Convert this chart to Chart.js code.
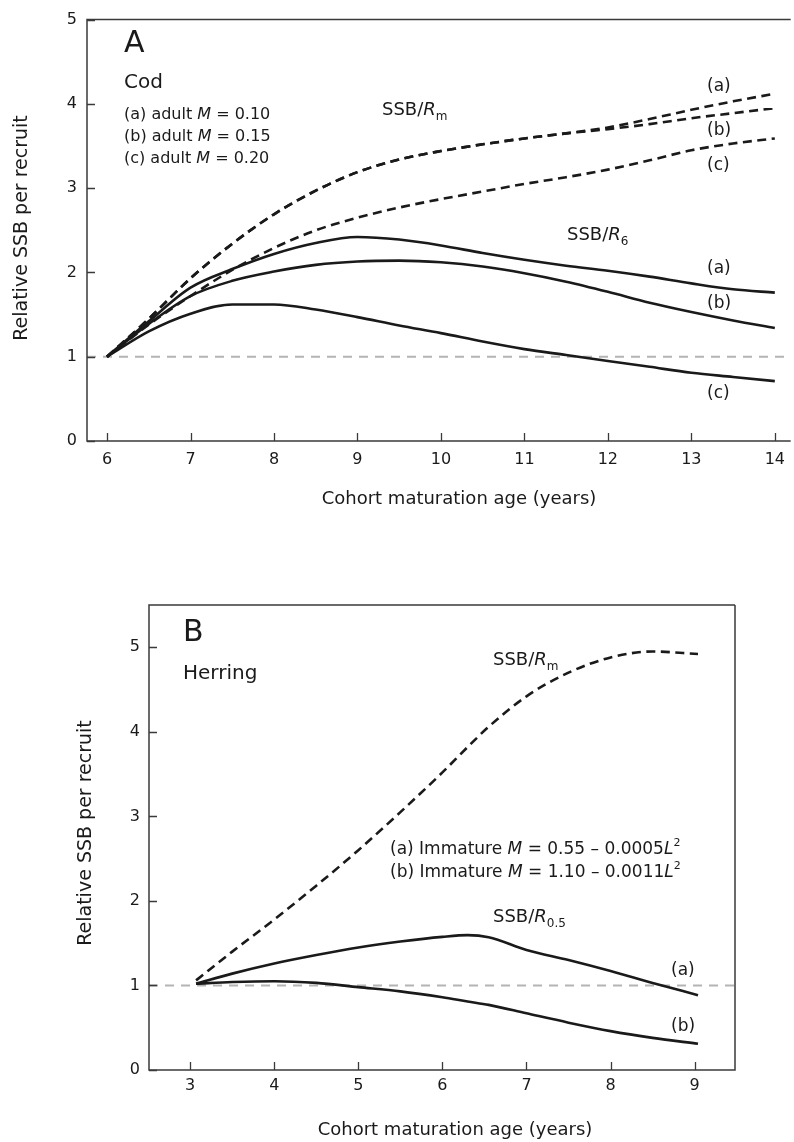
<!DOCTYPE html>
<html>
<head>
<meta charset="utf-8">
<script src="https://cdn.jsdelivr.net/npm/chart.js@4.4.1/dist/chart.umd.min.js"></script>
<style>
  html, body { margin: 0; padding: 0; background: #fff; }
  #page { position: relative; width: 794px; height: 1142px; }
  canvas { position: absolute; left: 0; }
  #cod { top: 0; }
  #herring { top: 560px; }
</style>
</head>
<body>
<div id="page">
  <canvas id="cod" width="794" height="520"></canvas>
  <canvas id="herring" width="794" height="582"></canvas>
</div>
<script>
// panel A - cod, x = maturation age (years)
const codAges = [6, 6.5, 7, 7.5, 8, 8.5, 9, 9.5, 10, 10.5, 11, 11.5, 12, 12.5, 13, 13.5, 14];
const codRmA = [1.0, 1.45, 1.93, 2.34, 2.69, 2.97, 3.19, 3.34, 3.44, 3.52, 3.59, 3.65, 3.72, 3.82, 3.93, 4.03, 4.12];
const codRmB = [1.0, 1.45, 1.93, 2.34, 2.69, 2.97, 3.19, 3.34, 3.44, 3.52, 3.59, 3.65, 3.70, 3.76, 3.83, 3.89, 3.95];
const codRmC = [1.0, 1.38, 1.72, 2.03, 2.29, 2.50, 2.65, 2.77, 2.87, 2.96, 3.05, 3.13, 3.22, 3.33, 3.45, 3.53, 3.59];
const codR6A = [1.0, 1.42, 1.82, 2.04, 2.22, 2.35, 2.42, 2.39, 2.32, 2.23, 2.15, 2.08, 2.02, 1.95, 1.87, 1.80, 1.76];
const codR6B = [1.0, 1.39, 1.72, 1.90, 2.01, 2.09, 2.13, 2.14, 2.12, 2.07, 1.99, 1.89, 1.77, 1.64, 1.53, 1.43, 1.34];
const codR6C = [1.0, 1.30, 1.51, 1.62, 1.62, 1.56, 1.47, 1.37, 1.28, 1.18, 1.09, 1.02, 0.95, 0.88, 0.81, 0.76, 0.71];

// panel B - herring
const herringAges = [3.07, 3.5, 4, 4.5, 5, 5.5, 6, 6.3, 6.55, 7, 7.5, 8, 8.5, 9.04];
const herringRm = [1.06, 1.40, 1.78, 2.18, 2.60, 3.05, 3.52, 3.82, 4.06, 4.42, 4.70, 4.88, 4.95, 4.92];
const herringR05A = [1.02, 1.14, 1.26, 1.36, 1.45, 1.52, 1.575, 1.595, 1.57, 1.42, 1.30, 1.17, 1.03, 0.885];
const herringR05B = [1.02, 1.04, 1.05, 1.03, 0.98, 0.93, 0.86, 0.81, 0.77, 0.67, 0.56, 0.46, 0.38, 0.31];

const refLevel = 1;
const codXRange = [5.76, 14.19];
const herringXRange = [2.51, 9.48];

const FONT = "DejaVu Sans";
const INK = "#1a1a1a";
const AXIS = "#3a3a3a";

function pts(xs, ys) {
  return xs.map((x, i) => ({ x: x, y: ys[i] }));
}

function curve(xs, ys, dashed) {
  return {
    data: pts(xs, ys),
    borderColor: INK,
    borderWidth: 2.6,
    borderDash: dashed ? [9, 5.5] : [],
    pointRadius: 0,
    cubicInterpolationMode: "monotone",
    fill: false,
  };
}

function refLine(range) {
  return {
    data: [{ x: range[0], y: refLevel }, { x: range[1], y: refLevel }],
    borderColor: "#b4b4b4",
    borderWidth: 2,
    borderDash: [9, 7],
    pointRadius: 0,
    fill: false,
  };
}

// text with mixed styles: [{text, size, italic, dy}]
function drawRuns(ctx, x, y, runs) {
  ctx.textBaseline = "alphabetic";
  ctx.textAlign = "left";
  ctx.fillStyle = INK;
  let cx = x;
  for (const r of runs) {
    ctx.font = (r.italic ? "italic " : "") + r.size + 'px "' + FONT + '"';
    ctx.fillText(r.text, cx, y + (r.dy || 0));
    cx += ctx.measureText(r.text).width;
  }
}

function ssb(sub, size) {
  return [
    { text: "SSB/", size: size },
    { text: "R", size: size, italic: true },
    { text: sub, size: Math.round(size * 0.68), dy: 5 },
  ];
}

function yTitle(ctx, cx, cy, text) {
  ctx.save();
  ctx.translate(cx, cy);
  ctx.rotate(-Math.PI / 2);
  ctx.textAlign = "center";
  ctx.textBaseline = "middle";
  ctx.fillStyle = INK;
  ctx.font = '19px "' + FONT + '"';
  ctx.fillText(text, 0, 0);
  ctx.restore();
}

function xTitle(ctx, cx, cy, text) {
  ctx.textAlign = "center";
  ctx.textBaseline = "middle";
  ctx.fillStyle = INK;
  ctx.font = '18px "' + FONT + '"';
  ctx.fillText(text, cx, cy);
}

// frame + inward tick marks
function drawFrame(chart, closedRight) {
  const { ctx, chartArea, scales } = chart;
  const { left, right, top, bottom } = chartArea;
  ctx.save();
  ctx.strokeStyle = AXIS;
  ctx.lineWidth = 1.5;
  ctx.beginPath();
  ctx.moveTo(right, top);
  ctx.lineTo(left, top);
  ctx.lineTo(left, bottom);
  ctx.lineTo(right, bottom);
  if (closedRight) ctx.lineTo(right, top);
  ctx.stroke();

  ctx.lineWidth = 1.3;
  ctx.beginPath();
  for (const t of scales.x.ticks) {
    const px = Math.round(scales.x.getPixelForValue(t.value)) + 0.5;
    ctx.moveTo(px, bottom);
    ctx.lineTo(px, bottom - 8);
  }
  for (const t of scales.y.ticks) {
    const py = Math.round(scales.y.getPixelForValue(t.value)) + 0.5;
    ctx.moveTo(left, py);
    ctx.lineTo(left + 8, py);
  }
  ctx.stroke();
  ctx.restore();
}

function overlay(drawFn) {
  return {
    id: "overlay",
    afterDraw(chart) {
      const ctx = chart.ctx;
      ctx.save();
      drawFn(chart, ctx);
      ctx.restore();
    },
  };
}

function axes(xRange, yMax, yWidth, xHeight, xPad, yPad) {
  const tickFont = { family: FONT, size: 16 };
  return {
    x: {
      type: "linear",
      min: xRange[0],
      max: xRange[1],
      grid: { display: false, drawTicks: false },
      border: { display: false },
      ticks: { stepSize: 1, includeBounds: false, padding: xPad, color: INK, font: tickFont, maxRotation: 0 },
      afterFit: (s) => { s.height = xHeight; },
    },
    y: {
      type: "linear",
      min: 0,
      max: yMax,
      grid: { display: false, drawTicks: false },
      border: { display: false },
      ticks: { stepSize: 1, includeBounds: false, padding: yPad, color: INK, font: tickFont },
      afterFit: (s) => { s.width = yWidth; },
    },
  };
}

new Chart(document.getElementById("cod"), {
  type: "line",
  data: {
    datasets: [
      curve(codAges, codRmA, true),
      curve(codAges, codRmB, true),
      curve(codAges, codRmC, true),
      curve(codAges, codR6A, false),
      curve(codAges, codR6B, false),
      curve(codAges, codR6C, false),
      refLine(codXRange),
    ],
  },
  options: {
    responsive: false,
    animation: false,
    layout: { padding: { top: 16, right: 0, left: 0, bottom: 0 } },
    plugins: { legend: { display: false }, tooltip: { enabled: false } },
    scales: axes(codXRange, 5, 87, 79, 9, 10),
  },
  plugins: [
    overlay((chart, ctx) => {
      drawFrame(chart, false);
      drawRuns(ctx, 124, 52, [{ text: "A", size: 30 }]);
      drawRuns(ctx, 124, 88, [{ text: "Cod", size: 20 }]);
      const legend = [["(a)", "0.10"], ["(b)", "0.15"], ["(c)", "0.20"]];
      legend.forEach((l, i) => {
        drawRuns(ctx, 124, 119 + i * 22.2, [
          { text: l[0] + " adult ", size: 16 },
          { text: "M", size: 16, italic: true },
          { text: " = " + l[1], size: 16 },
        ]);
      });
      drawRuns(ctx, 382, 115, ssb("m", 18));
      drawRuns(ctx, 567, 240, ssb("6", 18));
      const tags = [["(a)", 91], ["(b)", 135], ["(c)", 170], ["(a)", 273], ["(b)", 308], ["(c)", 398]];
      for (const t of tags) drawRuns(ctx, 707, t[1], [{ text: t[0], size: 17 }]);
      yTitle(ctx, 22, 228, "Relative SSB per recruit");
      xTitle(ctx, 459, 499, "Cohort maturation age (years)");
    }),
  ],
});

new Chart(document.getElementById("herring"), {
  type: "line",
  data: {
    datasets: [
      curve(herringAges, herringRm, true),
      curve(herringAges, herringR05A, false),
      curve(herringAges, herringR05B, false),
      refLine(herringXRange),
    ],
  },
  options: {
    responsive: false,
    animation: false,
    layout: { padding: { top: 45, right: 59, left: 0, bottom: 0 } },
    plugins: { legend: { display: false }, tooltip: { enabled: false } },
    scales: axes(herringXRange, 5.5, 149, 72, 6, 9),
  },
  plugins: [
    overlay((chart, ctx) => {
      drawFrame(chart, true);
      drawRuns(ctx, 183, 81, [{ text: "B", size: 30 }]);
      drawRuns(ctx, 183, 119, [{ text: "Herring", size: 20 }]);
      drawRuns(ctx, 493, 105, ssb("m", 18));
      const lines = [["(a)", "0.55", "0.0005"], ["(b)", "1.10", "0.0011"]];
      lines.forEach((l, i) => {
        drawRuns(ctx, 390, 294 + i * 22.7, [
          { text: l[0] + " Immature ", size: 17 },
          { text: "M", size: 17, italic: true },
          { text: " = " + l[1] + " \u2013 " + l[2], size: 17 },
          { text: "L", size: 17, italic: true },
          { text: "2", size: 11, dy: -8 },
        ]);
      });
      drawRuns(ctx, 493, 362, ssb("0.5", 18));
      drawRuns(ctx, 671, 415, [{ text: "(a)", size: 17 }]);
      drawRuns(ctx, 671, 471, [{ text: "(b)", size: 17 }]);
      yTitle(ctx, 86, 273, "Relative SSB per recruit");
      xTitle(ctx, 455, 570, "Cohort maturation age (years)");
    }),
  ],
});
</script>
</body>
</html>
